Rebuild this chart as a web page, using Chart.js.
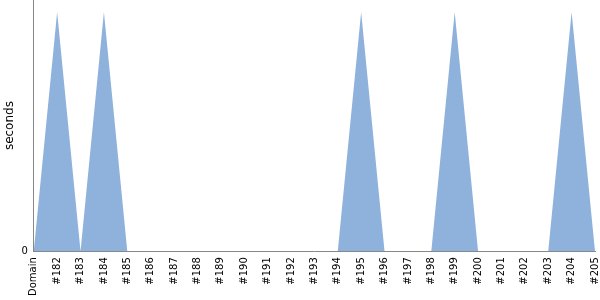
<!DOCTYPE html>
<html>
<head>
<meta charset="utf-8">
<script src="https://cdn.jsdelivr.net/npm/chart.js@4"></script>
<style>
  html, body { margin: 0; padding: 0; background: #fff; }
  #wrap { width: 600px; height: 300px; }
</style>
</head>
<body>
<div id="wrap"><canvas id="chart"></canvas></div>
<script>
// build labels
const builds = ['Domain', '#182', '#183', '#184', '#185', '#186', '#187', '#188', '#189', '#190',
    '#191', '#192', '#193', '#194', '#195', '#196', '#197', '#198', '#199', '#200',
    '#201', '#202', '#203', '#204', '#205'];
// duration in seconds
const seconds = [0, 1, 0, 1, 0, 0, 0, 0, 0, 0,
    0, 0, 0, 0, 1, 0, 0, 0, 1, 0,
    0, 0, 0, 1, 0];
const yTicks = [0];

const axisColor = '#888888';

new Chart(document.getElementById('chart'), {
    type: 'line',
    data: {
        labels: builds,
        datasets: [{
            data: seconds,
            fill: 'origin',
            backgroundColor: '#8fb2dc',
            borderWidth: 0,
            pointRadius: 0,
            tension: 0
        }]
    },
    options: {
        responsive: true,
        maintainAspectRatio: false,
        animation: false,
        layout: { padding: { top: 0, right: 5, left: 0, bottom: 2 } },
        plugins: {
            legend: { display: false },
            tooltip: { enabled: false }
        },
        scales: {
            x: {
                offset: false,
                afterFit: s => { s.paddingRight = 0; s.paddingLeft = 0; },
                grid: { display: false, drawTicks: true, tickLength: 4, color: axisColor },
                border: { color: axisColor },
                ticks: {
                    color: '#000',
                    font: { family: 'DejaVu Sans', size: 10 },
                    maxRotation: 90,
                    minRotation: 90,
                    autoSkip: false,
                    padding: 2
                }
            },
            y: {
                min: 0,
                max: 1.05,
                afterBuildTicks: axis => { axis.ticks = yTicks.map(v => ({ value: v })); },
                afterFit: s => { s.paddingTop = 0; s.paddingBottom = 0; },
                grid: { display: false, drawTicks: true, tickLength: 4, color: axisColor },
                border: { color: axisColor },
                ticks: {
                    color: '#000',
                    font: { family: 'DejaVu Sans', size: 10 },
                    padding: 2
                },
                title: {
                    display: true,
                    text: 'seconds',
                    color: '#000',
                    font: { family: 'DejaVu Sans', size: 12 },
                    padding: { top: 3, bottom: 2 }
                }
            }
        }
    }
});
</script>
</body>
</html>
